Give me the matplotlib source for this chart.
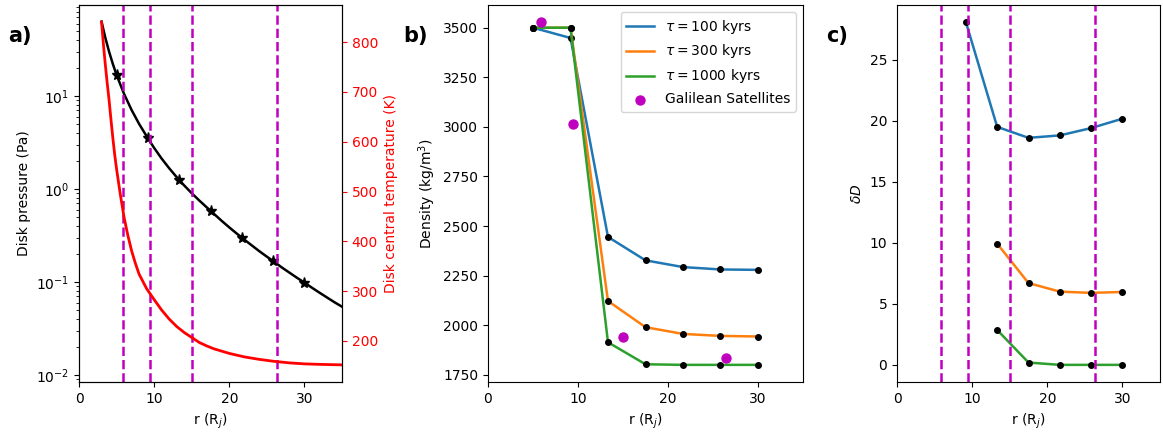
import matplotlib
matplotlib.use("Agg")
import matplotlib.pyplot as plt

# ---- Panel a: disk pressure and temperature profiles ----
r_curve = [3, 3.5, 4, 4.5, 5, 6, 7, 8, 9, 9.17, 10, 11, 12, 13, 13.33, 14, 15, 16, 17, 17.5,
           18, 19, 20, 21, 21.67, 22, 23, 24, 25, 25.83, 26, 27, 28, 29, 30, 31, 32, 33, 34, 35]
pressure = [63.0, 42.3, 30.0, 22.1, 16.8, 10.5, 7.06, 5.00, 3.69, 3.50, 2.76, 2.12, 1.67, 1.34, 1.25,
            1.09, 0.90, 0.752, 0.634, 0.585, 0.536, 0.453, 0.386, 0.331, 0.300, 0.285, 0.247,
            0.214, 0.187, 0.168, 0.164, 0.143, 0.126, 0.111, 0.0984, 0.0867, 0.0767, 0.0681,
            0.0605, 0.0542]
r_temp = [3.0, 3.25, 3.5, 3.75, 4.0, 4.25, 4.5, 4.75, 5.0, 5.5, 6.0, 6.5, 7.0, 7.5, 8.0, 9.0,
          10.0, 11.0, 12.0, 13.0, 14.0, 15.0, 16.0, 17.0, 18.0, 20.0, 22.0, 24.0, 26.0, 28.0,
          30.0, 32.0, 35.0]
temperature = [840, 795, 755, 718, 684, 645, 608, 574, 545, 494, 448, 412, 381, 356, 334, 305,
               283, 262, 244, 229, 217, 207, 197, 190, 184, 175, 168, 163, 159, 156, 154, 153, 152]

r_moons = [5.0, 9.17, 13.33, 17.5, 21.67, 25.83, 30.0]
pressure_moons = [16.8, 3.5, 1.25, 0.585, 0.30, 0.168, 0.098]

# Galilean satellites
sat_r = [5.9, 9.4, 15.0, 26.4]
sat_density = [3528, 3013, 1942, 1834]

# ---- Panel b: density ----
dens_100 = [3500, 3448, 2445, 2327, 2293, 2281, 2279]
dens_300 = [3500, 3500, 2122, 1990, 1956, 1946, 1943]
dens_1000 = [3500, 3500, 1914, 1803, 1800, 1800, 1800]

# ---- Panel c: delta D ----
r_dD_100 = [9.17, 13.33, 17.5, 21.67, 25.83, 30.0]
dD_100 = [28.08, 19.5, 18.6, 18.8, 19.4, 20.17]
r_dD_300 = [13.33, 17.5, 21.67, 25.83, 30.0]
dD_300 = [9.93, 6.7, 6.0, 5.9, 5.97]
r_dD_1000 = [13.33, 17.5, 21.67, 25.83, 30.0]
dD_1000 = [2.86, 0.19, 0.0, 0.0, 0.0]

labels = [r"$\tau = 100$ kyrs", r"$\tau = 300$ kyrs", r"$\tau = 1000$ kyrs"]
colors = ["tab:blue", "tab:orange", "tab:green"]
x_ticks = [0, 10, 20, 30]

plt.rcParams['font.size'] = 10
fig = plt.figure(figsize=(11.63, 4.37), dpi=100)
W, H = 1163, 437
def pos(l, r, t, b):
    return [l / W, 1 - b / H, (r - l) / W, (b - t) / H]

axa = fig.add_axes(pos(79, 342, 5, 382))
axb = fig.add_axes(pos(488, 803, 5, 382))
axc = fig.add_axes(pos(897, 1160, 5, 382))

# Panel a
axa.plot(r_curve, pressure, color='k', lw=1.8)
axa.plot(r_moons, pressure_moons, 'k*', ms=8)
axa.set_yscale('log')
axa.set_xlim(0, 35)
axa.set_xticks(x_ticks)
axa.set_ylim(0.0084, 95)
for x in sat_r:
    axa.axvline(x, color='m', ls='--', lw=1.8)
axa.set_ylabel("Disk pressure (Pa)")
axa.set_xlabel(r"r (R$_j$)")
axt = axa.twinx()
axt.plot(r_temp, temperature, color='red', lw=2)
axt.set_ylabel("Disk central temperature (K)", color='red')
axt.tick_params(axis='y', colors='red')
axt.set_xlim(0, 35)

# Panel b
for d, lab, c in zip([dens_100, dens_300, dens_1000], labels, colors):
    axb.plot(r_moons, d, color=c, label=lab, lw=1.8)
    axb.plot(r_moons, d, 'k.', ms=8)
axb.scatter(sat_r, sat_density, color='m', s=42, zorder=5, label="Galilean Satellites")
axb.set_xlim(0, 35)
axb.set_xticks(x_ticks)
axb.set_yticks([1750, 2000, 2250, 2500, 2750, 3000, 3250, 3500])
axb.set_ylabel(r"Density (kg/m$^3$)")
axb.set_xlabel(r"r (R$_j$)")
axb.legend(loc='upper right', fontsize=10)

# Panel c
for rr, d, c in zip([r_dD_100, r_dD_300, r_dD_1000], [dD_100, dD_300, dD_1000], colors):
    axc.plot(rr, d, color=c, lw=1.8)
    axc.plot(rr, d, 'k.', ms=8)
for x in sat_r:
    axc.axvline(x, color='m', ls='--', lw=1.8)
axc.set_xlim(0, 35)
axc.set_xticks(x_ticks)
axc.set_ylabel(r"$\delta D$")
axc.set_xlabel(r"r (R$_j$)")

fig.text(8 / W, 1 - 36 / H, "a)", fontsize=15, fontweight='bold', va='center')
fig.text(403 / W, 1 - 36 / H, "b)", fontsize=15, fontweight='bold', va='center')
fig.text(826 / W, 1 - 36 / H, "c)", fontsize=15, fontweight='bold', va='center')

fig.savefig("out.png", dpi=100)
